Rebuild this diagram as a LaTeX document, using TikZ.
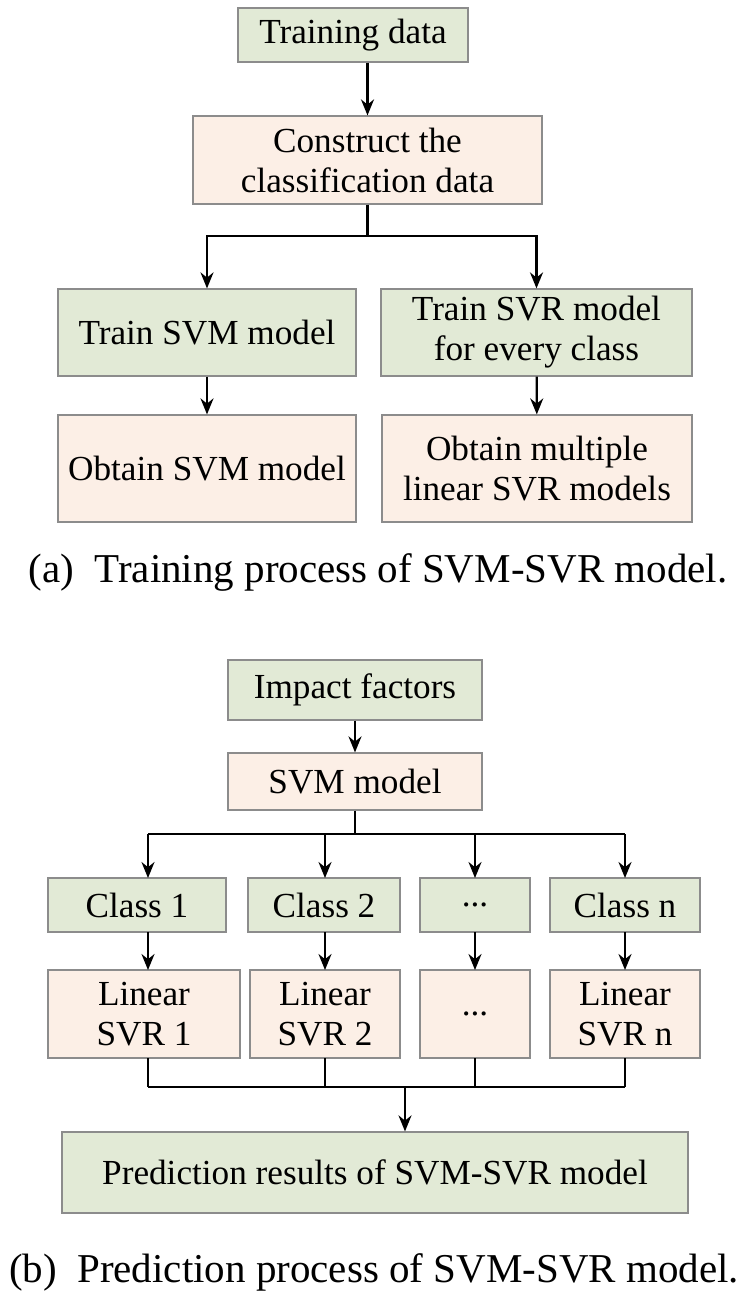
\documentclass[tikz,border=0pt]{standalone}
\usepackage{fontspec}
\setmainfont{Liberation Serif}
\usetikzlibrary{arrows.meta}
\definecolor{gr}{HTML}{E2EAD6}
\definecolor{pe}{HTML}{FCEFE6}
\definecolor{bd}{HTML}{8C8C8C}
\begin{document}
\begin{tikzpicture}[x=0.5pt,y=-0.5pt,
 box/.style={draw=bd,line width=0.6pt,inner sep=0pt,align=center,font=\fontsize{17.6}{20}\selectfont},
 g/.style={box,fill=gr}, p/.style={box,fill=pe},
 ar/.style={-{Stealth[length=8pt,width=6.5pt]},line width=1.1pt},
 ln/.style={line width=1.1pt}]
\useasboundingbox (0,0) rectangle (750,1311);
\node[g,minimum width=115pt,minimum height=27pt] (td) at (353,35) {Training data};
\node[p,minimum width=174.5pt,minimum height=44pt] (cc) at (367.5,160) {Construct the\\classification data};
\node[g,minimum width=149pt,minimum height=43.5pt] (tsvm) at (207,332.5) {Train SVM model};
\node[g,minimum width=155.5pt,minimum height=43.5pt] (tsvr) at (536.5,332.5) {Train SVR model\\for every class};
\node[p,minimum width=149pt,minimum height=53.5pt] (osvm) at (207,468.5) {Obtain SVM model};
\node[p,minimum width=155pt,minimum height=53.5pt] (osvr) at (537,468.5) {Obtain multiple\\linear SVR models};
\node[font=\fontsize{20.5}{23}\selectfont] (ca) at (378,572) {(a)\ \ Training process of SVM-SVR model.};
\draw[ar] (td.south -| cc) -- (cc);
\coordinate (ja) at (367.5,236);
\draw[ln] (cc.south) -- (ja);
\draw[ar] (ja) -| (tsvm.north);
\draw[ar] (ja) -| (tsvr.north);
\draw[ar] (tsvm) -- (osvm);
\draw[ar] (tsvr) -- (osvr);

\node[g,minimum width=127pt,minimum height=30pt] (imp) at (355,690) {Impact factors};
\node[p,minimum width=127pt,minimum height=28.5pt] (svm) at (355,781.5) {SVM model};
\node[g,minimum width=89pt,minimum height=27pt] (c1) at (137,905) {Class 1};
\node[g,minimum width=76pt,minimum height=27pt] (c2) at (324,905) {Class 2};
\node[g,minimum width=55pt,minimum height=27pt] (c3) at (475,905) {...};
\node[g,minimum width=75pt,minimum height=27pt] (c4) at (625,905) {Class n};
\node[p,minimum width=96pt,minimum height=44pt] (l1) at (144,1014) {Linear\\SVR 1};
\node[p,minimum width=75pt,minimum height=44pt] (l2) at (325,1014) {Linear\\SVR 2};
\node[p,minimum width=55pt,minimum height=44pt] (l3) at (475,1014) {...};
\node[p,minimum width=75pt,minimum height=44pt] (l4) at (625,1014) {Linear\\SVR n};
\node[g,minimum width=313pt,minimum height=40.5pt] (pr) at (375,1172.5) {Prediction results of SVM-SVR model};
\node[font=\fontsize{20.5}{23}\selectfont] (cb) at (374,1272) {(b)\ \ Prediction process of SVM-SVR model.};
\draw[ar] (imp) -- (svm);
\coordinate (jb) at (355,834);
\draw[ln] (svm.south) -- (jb);
\draw[ln] (148,834) -- (625,834);
\foreach \x/\c/\l in {148/c1/l1,325/c2/l2,475/c3/l3,625/c4/l4}{
  \draw[ar] (\x,834) -- (\x,878);
  \draw[ar] (\x,932) -- (\x,970);
  \draw[ln] (\x,1058) -- (\x,1087);
}
\draw[ln] (148,1087) -- (625,1087);
\draw[ar] (405,1087) -- (pr.north -| 405,0);
\end{tikzpicture}
\end{document}
